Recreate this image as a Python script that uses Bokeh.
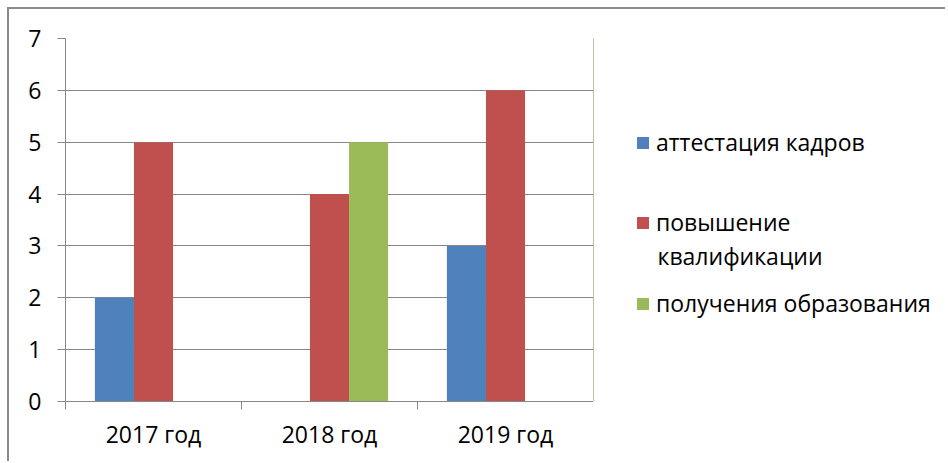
from bokeh.plotting import figure
from bokeh.layouts import row
from bokeh.models import (ColumnDataSource, FixedTicker, Legend, LegendItem, Label, Range1d)
from bokeh.embed import file_html
from bokeh.resources import INLINE

years = ["2017 год", "2018 год", "2019 год"]
attestation = [2, 0, 3]
qualification = [5, 4, 6]
education = [0, 5, 0]
y_ticks = [0, 1, 2, 3, 4, 5, 6, 7]

series_names = ["аттестация кадров", "повышение квалификации", "получения образования"]
colors = ["#4F81BD", "#C0504D", "#9BBB59"]

FONT = "Open Sans"
GRAY = "#878787"
BAR_W = 0.222

centers = [i + 0.5 for i in range(len(years))]

p = figure(width=584, height=452, output_backend="svg", toolbar_location=None,
           x_range=Range1d(0, len(years)), y_range=Range1d(0, 7),
           min_border_left=56, min_border_top=29, min_border_right=0,
           min_border_bottom=60)
p.outline_line_color = None

for k, (vals, col) in enumerate(zip([attestation, qualification, education], colors)):
    off = (k - 1) * BAR_W
    src = ColumnDataSource(dict(x=[c + off for c in centers], top=vals))
    p.vbar(x="x", top="top", bottom=0, width=BAR_W, source=src,
           fill_color=col, line_color=None)

# y axis
p.yaxis.ticker = FixedTicker(ticks=y_ticks)
p.yaxis.axis_line_color = GRAY
p.yaxis.major_tick_line_color = GRAY
p.yaxis.major_tick_out = 8
p.yaxis.major_tick_in = 0
p.yaxis.minor_tick_line_color = None
p.yaxis.major_label_text_font = FONT
p.yaxis.major_label_text_font_size = "23px"
p.yaxis.major_label_text_color = "black"
p.yaxis.major_label_standoff = 16

# x axis
p.xaxis.ticker = FixedTicker(ticks=centers, minor_ticks=list(range(len(years) + 1)))
p.xaxis.major_label_overrides = {c: y for c, y in zip(centers, years)}
p.xaxis.axis_line_color = GRAY
p.xaxis.major_tick_line_color = None
p.xaxis.major_tick_out = 0
p.xaxis.major_tick_in = 0
p.xaxis.minor_tick_line_color = GRAY
p.xaxis.minor_tick_out = 8
p.xaxis.minor_tick_in = 0
p.xaxis.major_label_text_font = FONT
p.xaxis.major_label_text_font_size = "23px"
p.xaxis.major_label_text_color = "black"
p.xaxis.major_label_standoff = 8

p.xgrid.grid_line_color = None
p.ygrid.grid_line_color = GRAY
p.ygrid.ticker = FixedTicker(ticks=y_ticks)

# legend panel
lp = figure(width=352, height=452, output_backend="svg", toolbar_location=None,
            x_range=Range1d(0, 1), y_range=Range1d(0, 1),
            x_axis_location=None, y_axis_location=None,
            min_border_left=0, min_border_top=0, min_border_right=0,
            min_border_bottom=0)
lp.grid.visible = False
lp.outline_line_color = None

# legend-only renderers, placed outside the visible range
dummies = []
for col in colors:
    dummies.append(lp.vbar(x=[-10], top=[1], width=0.1, fill_color=col, line_color=None))

def make_legend(label, r, loc):
    lg = Legend(items=[LegendItem(label=label, renderers=[r])], location=loc,
                glyph_width=15, glyph_height=15, label_standoff=6, padding=0,
                margin=0, border_line_color=None, background_fill_alpha=0,
                label_text_font=FONT, label_text_font_size="23px",
                label_text_color="black", label_height=15, spacing=0)
    lp.add_layout(lg, "center")

make_legend(series_names[0], dummies[0], (42, 243))
make_legend("повышение", dummies[1], (42, 163))
make_legend(series_names[2], dummies[2], (42, 82))
lp.add_layout(Label(x=64, y=146, x_units="screen", y_units="screen",
                    text="квалификации", text_font=FONT, text_font_size="23px",
                    text_baseline="middle", text_color="black"))

layout = row(p, lp, spacing=0)
layout.styles = {"border-left": "2px solid #8a8a8a", "border-top": "2px solid #8a8a8a",
                 "margin-left": "7px", "margin-top": "7px"}

open("out.html", "w").write(file_html(layout, INLINE))
